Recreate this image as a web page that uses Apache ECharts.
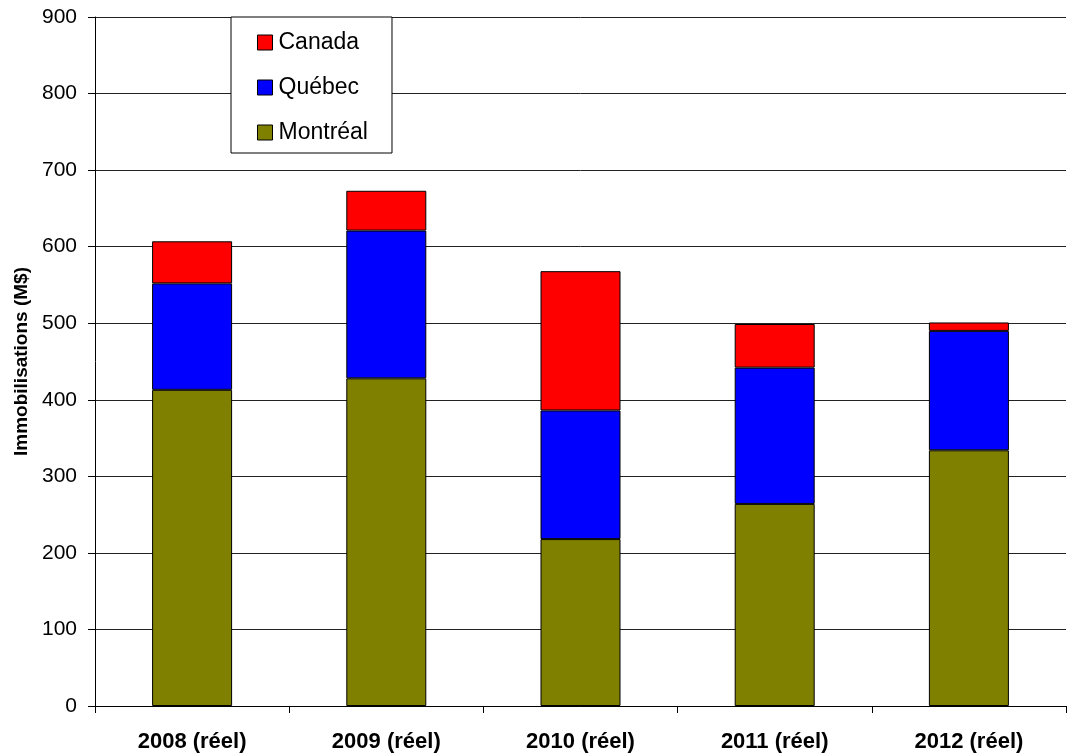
<!DOCTYPE html>
<html>
<head>
<meta charset="utf-8">
<script src="https://cdn.jsdelivr.net/npm/echarts@6/dist/echarts.min.js"></script>
<style>
html,body{margin:0;padding:0;background:#fff;}
#chart{width:1070px;height:754px;}
</style>
</head>
<body>
<div id="chart"></div>
<script>
const categories = ['2008 (réel)', '2009 (réel)', '2010 (réel)', '2011 (réel)', '2012 (réel)'];
const montreal = [413, 428, 218, 264, 334];
const quebec = [139, 193, 168, 178, 156];
const canada = [55, 52, 182, 57, 11];
const legendOrder = ['Canada', 'Québec', 'Montréal'];

const chart = echarts.init(document.getElementById('chart'), null, {renderer: 'canvas'});
const font = '"Liberation Sans", Arial, sans-serif';
const barStyle = (c) => ({color: c, borderColor: '#000', borderWidth: 1});
chart.setOption({
  animation: false,
  backgroundColor: '#fff',
  textStyle: {fontFamily: font},
  grid: {left: 95, right: 4, top: 17, bottom: 48, containLabel: false},
  legend: {
    data: legendOrder,
    orient: 'vertical',
    left: 231, top: 17,
    padding: [14, 24, 9, 26],
    icon: 'rect',
    itemWidth: 15, itemHeight: 15,
    itemGap: 22,
    backgroundColor: '#fff',
    borderColor: '#000', borderWidth: 1, borderRadius: 0,
    itemStyle: {borderColor: '#000', borderWidth: 1},
    textStyle: {fontFamily: font, fontSize: 23, color: '#000', lineHeight: 23, padding: [0, 0, 0, 1]}
  },
  xAxis: {
    type: 'category',
    data: categories,
    boundaryGap: true,
    axisLine: {lineStyle: {color: '#000', width: 1}},
    axisTick: {show: true, length: 7, lineStyle: {color: '#000'}},
    axisLabel: {fontFamily: font, fontSize: 22, fontWeight: 'bold', color: '#000', margin: 25}
  },
  yAxis: {
    type: 'value',
    min: 0, max: 900, interval: 100,
    name: 'Immobilisations (M$)',
    nameLocation: 'middle',
    nameGap: 62,
    nameTextStyle: {fontFamily: font, fontSize: 19, fontWeight: 'bold', color: '#000'},
    axisLine: {show: true, lineStyle: {color: '#000', width: 1}},
    axisTick: {show: true, length: 7, lineStyle: {color: '#000'}},
    axisLabel: {fontFamily: font, fontSize: 21, color: '#000', margin: 18},
    splitLine: {show: true, lineStyle: {color: '#222', width: 1}}
  },
  series: [
    {name: 'Montréal', type: 'bar', stack: 'a', data: montreal, barWidth: 80, itemStyle: barStyle('#808000')},
    {name: 'Québec', type: 'bar', stack: 'a', data: quebec, barWidth: 80, itemStyle: barStyle('#0000FF')},
    {name: 'Canada', type: 'bar', stack: 'a', data: canada, barWidth: 80, itemStyle: barStyle('#FF0000')}
  ]
});
</script>
</body>
</html>
